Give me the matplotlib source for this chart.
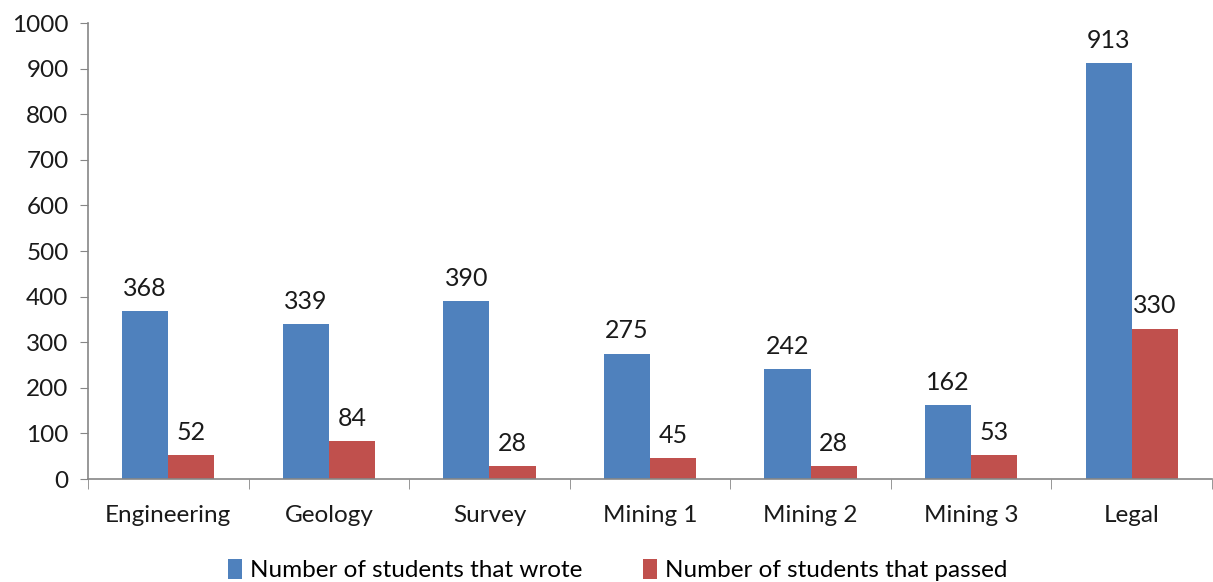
import matplotlib.pyplot as plt
import numpy as np

plt.rcParams['font.family'] = ['Lato', 'DejaVu Sans']

categories = ['Engineering', 'Geology', 'Survey', 'Mining 1', 'Mining 2', 'Mining 3', 'Legal']
wrote = [368, 339, 390, 275, 242, 162, 913]
passed = [52, 84, 28, 45, 28, 53, 330]

blue = '#4F81BD'
red = '#C0504D'
axis_grey = '#868686'

fig = plt.figure(figsize=(12.13, 5.82), dpi=100)
ax = fig.add_axes([88 / 1213, 1 - 479 / 582, 1124 / 1213, 456 / 582])

x = np.arange(len(categories))
w = 0.287
b1 = ax.bar(x - w / 2, wrote, w, color=blue, label='Number of students that wrote')
b2 = ax.bar(x + w / 2, passed, w, color=red, label='Number of students that passed')

for bars, vals in ((b1, wrote), (b2, passed)):
    for rect, v in zip(bars, vals):
        ax.annotate(str(v), (rect.get_x() + rect.get_width() / 2, v),
                    xytext=(0, 8), textcoords='offset points',
                    ha='center', va='bottom', fontsize=18, color='#1a1a1a')

ax.set_xlim(-0.5, len(categories) - 0.5)
ax.set_ylim(0, 1000)
ax.set_yticks(range(0, 1001, 100))
ax.tick_params(axis='y', labelsize=17.5, length=6, color=axis_grey, pad=8, labelcolor='#1a1a1a')

# category labels on major ticks, separator marks on minor ticks
ax.set_xticks(x)
ax.set_xticklabels(categories)
ax.tick_params(axis='x', which='major', length=0, labelsize=17.5, pad=19, labelcolor='#1a1a1a')
ax.set_xticks(np.arange(-0.5, len(categories)), minor=True)
ax.tick_params(axis='x', which='minor', length=7, color=axis_grey)

for s in ('top', 'right'):
    ax.spines[s].set_visible(False)
for s in ('left', 'bottom'):
    ax.spines[s].set_color(axis_grey)
    ax.spines[s].set_linewidth(1.2)

fig.legend(handles=[b1, b2], loc='lower center', bbox_to_anchor=(0.509, -0.036),
           ncol=2, frameon=False, fontsize=17.5, handlelength=0.6, handleheight=0.9,
           handletextpad=0.3, columnspacing=2.5)

fig.savefig('out.png', dpi=100)
